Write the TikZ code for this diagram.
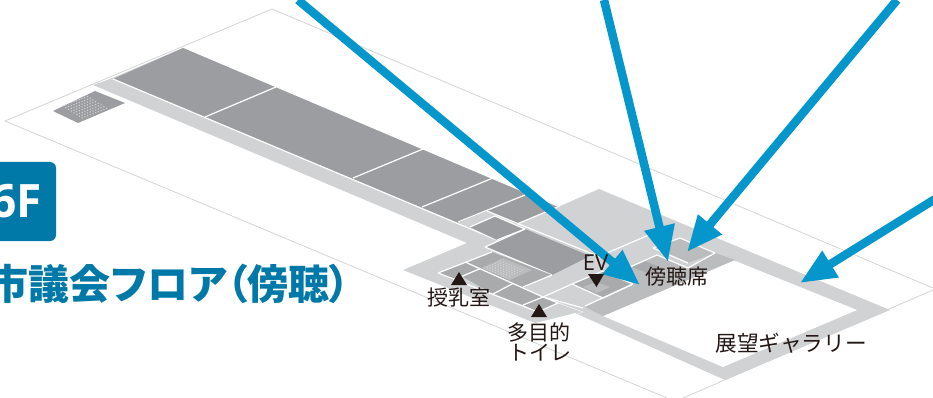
\documentclass[tikz,border=0pt]{standalone}
\usepackage{fontspec}
\usetikzlibrary{arrows.meta}
\setmainfont{Noto Sans CJK JP}
\newfontfamily\jp{Noto Sans CJK JP}
\newfontfamily\jpp[RawFeature={+palt}]{Noto Sans CJK JP}
\newfontfamily\lat{Open Sans}
\definecolor{lightg}{HTML}{D1D2D4}
\definecolor{darkg}{HTML}{9C9DA0}
\definecolor{midg}{HTML}{BBBCBE}
\definecolor{dimg}{HTML}{A9AAAC}
\definecolor{outl}{HTML}{D4D4D4}
\definecolor{blue1}{HTML}{0596CB}
\definecolor{teal1}{HTML}{0078A8}
\definecolor{ink}{HTML}{231815}
\newcommand{\dotpatch}[8]{%
  \foreach \i in {0,...,#7}{\foreach \j in {0,...,#8}{%
    \fill[lightg] ({#1+\i*#3+\j*#5},{#2+\i*#4+\j*#6}) circle (0.75);}}}
\tikzset{
  wline/.style={draw=white,line width=1.2pt},
  olin/.style={draw=outl,line width=0.8pt},
  room/.style={fill=darkg},
  pointer/.style={draw=blue1,line width=8.5pt,-{Triangle[length=36pt,width=29pt]}},
  lab/.style={text=ink,font=\jp\fontsize{21}{24}\selectfont,inner sep=0pt},
  tri/.style={fill=ink}
}
\begin{document}
\begin{tikzpicture}[x=1pt,y=-1pt]
\useasboundingbox (0,0) rectangle (933,398);
\clip (0,0) rectangle (933,398);
% outer floor outline
\draw[olin] (933,288) -- (272,9) -- (5,121) -- (667,398);
\draw[olin] (683,398) -- (933,290);
% base floor
\fill[lightg] (110,79) -- (93,85) -- (467,243) -- (403,270) -- (535,323) -- (575,313) -- (725,380) -- (890,310) -- (599,189) -- (558,207) -- (183,48) -- cycle;
\fill[white] (603,316) -- (723,367) -- (857,310) -- (733,260) -- cycle;
% long rooms
\fill[room] (113,79) -- (183,48) -- (558,207) -- (517,224) -- (487,211) -- (458,223) -- cycle;
\draw[wline] (113,79) -- (497,240);
\draw[wline] (205,117) -- (276,87);
\draw[wline] (353,178) -- (423,149);
\draw[wline] (422,207) -- (493,178);
\draw[wline] (458,222) -- (525,195);
\draw[wline] (517,224) -- (560,206);
% small rooms
\fill[lightg] (458,223) -- (487,211) -- (495,216) -- (470,227) -- cycle;
\fill[room] (470,227) -- (495,216) -- (525,229) -- (497,240) -- cycle;
\fill[room] (485,247) -- (525,229) -- (590,256) -- (552,275) -- cycle;
\draw[wline] (470,227) -- (495,216) -- (525,229);
\draw[wline] (487,211) -- (600,257);
\draw[wline] (497,240) -- (525,229);
\draw[wline] (485,247) -- (525,229);
\draw[wline] (485,247) -- (552,275);
% rooms on the lower left
\fill[dimg] (465,262) -- (492,252) -- (552,275) -- (523,287) -- cycle;
\fill[dimg] (438,273) -- (465,262) -- (480,268.7) -- (453,280) -- cycle;
\fill[dimg] (463,277) -- (480,268.7) -- (513,283.5) -- (493,294) -- cycle;
\fill[dimg] (493,294) -- (513,283.5) -- (543,297) -- (523,305) -- cycle;
\fill[dimg] (523,305) -- (543,297) -- (558,303) -- (538,312) -- cycle;
\fill[midg] (482,268) -- (503,258) -- (532,270) -- (510,280) -- cycle;
\dotpatch{484.5}{268}{2.7}{-1.15}{2.75}{1.15}{6}{8}
\draw[wline] (438,273) -- (492,252);
\draw[wline] (438,273) -- (538,312);
\draw[wline] (465,262) -- (543,297);
\draw[wline] (453,280) -- (480,268.7);
\draw[wline] (493,294) -- (513,283.5);
\draw[wline] (523,305) -- (543,297);
\draw[wline] (543,297) -- (572,284);
\draw[wline] (538,312) -- (558,303) -- (543,297);
\draw[wline] (543,297) -- (583,308);
\draw[wline] (523,287) -- (552,275);
% light partitions
\draw[white!85!lightg,line width=0.5pt] (558,303) -- (583,312) -- (567,318);
% EV room
\fill[dimg] (572,284) -- (603,271) -- (633,284) -- (603,298) -- cycle;
\fill[midg] (583,287) -- (596,282) -- (610,287) -- (597,293) -- cycle;
% gallery seating
\fill[midg] (603,316) -- (585,307) -- (633,285) -- (605,272) -- (630,267) -- (657,255) -- (688,268) -- (715,253) -- (735,260) -- cycle;
\fill[dimg] (632,267) -- (645,261) -- (662,268) -- (650,274) -- cycle;
\fill[midg] (653,248) -- (680,238) -- (715,253) -- (688,263) -- cycle;
\draw[wline] (572,284) -- (603,298) -- (633,284);
\draw[wline] (572,284) -- (603,271) -- (633,284);
\draw[wline] (585,306) -- (633,284);
\draw[wline] (600,256) -- (672,225);
\draw[wline] (630,267) -- (657,255) -- (688,268) -- (715,253);
\draw[wline] (653,248) -- (680,238) -- (715,253);
\draw[wline] (653,248) -- (688,263);
% small hatched stair
\fill[room] (53,111) -- (95,91) -- (125,103) -- (78,123) -- cycle;
\dotpatch{63}{106}{2.7}{-1.05}{2.75}{1.7}{9}{7}
% arrows
\coordinate (a1s) at (298,0);   \coordinate (a1e) at (640,285);
\coordinate (a2s) at (604,0);   \coordinate (a2e) at (668,262);
\coordinate (a3s) at (897,0);   \coordinate (a3e) at (687,252);
\coordinate (a4s) at (940,196); \coordinate (a4e) at (800,283);
\draw[pointer] (a1s) -- (a1e);
\draw[pointer] (a2s) -- (a2e);
\draw[pointer] (a3s) -- (a3e);
\draw[pointer] (a4s) -- (a4e);
% triangles
\fill[tri] (459,272) -- (467,285) -- (451,285) -- cycle;
\fill[tri] (539,304) -- (547,317) -- (531,317) -- cycle;
\fill[tri] (588,274) -- (604,274) -- (596.5,287) -- cycle;
% labels
\node[lab,anchor=center] (kokoro) at (677,277) {傍聴席};
\node[lab,anchor=center] (junyu) at (459,298) {授乳室};
\node[lab,anchor=center] (tamoku) at (538.5,332) {多目的};
\node[lab,anchor=center] (toire) at (540,353) {トイレ};
\node[lab,anchor=center,font=\lat\fontsize{22}{24}\selectfont] (ev) at (595.5,263) {EV};
\node[lab,anchor=center,font=\jp\fontsize{21.6}{24}\selectfont] (tenbo) at (791,343) {展望ギャラリー};
% floor tag
\fill[teal1] (-20,162) [rounded corners=6pt] -- (56,162) -- (56,241) -- (-20,241) -- cycle;
\node[anchor=east,inner sep=0pt,text=white,font=\lat\bfseries\fontsize{46}{50}\selectfont] (tag) at (42,201) {6F};
\node[anchor=east,inner sep=0pt,text=teal1,font=\jpp\bfseries\fontsize{41}{44}\selectfont] (title) at (350,284) {市議会フロア（傍聴）};
\end{tikzpicture}
\end{document}
